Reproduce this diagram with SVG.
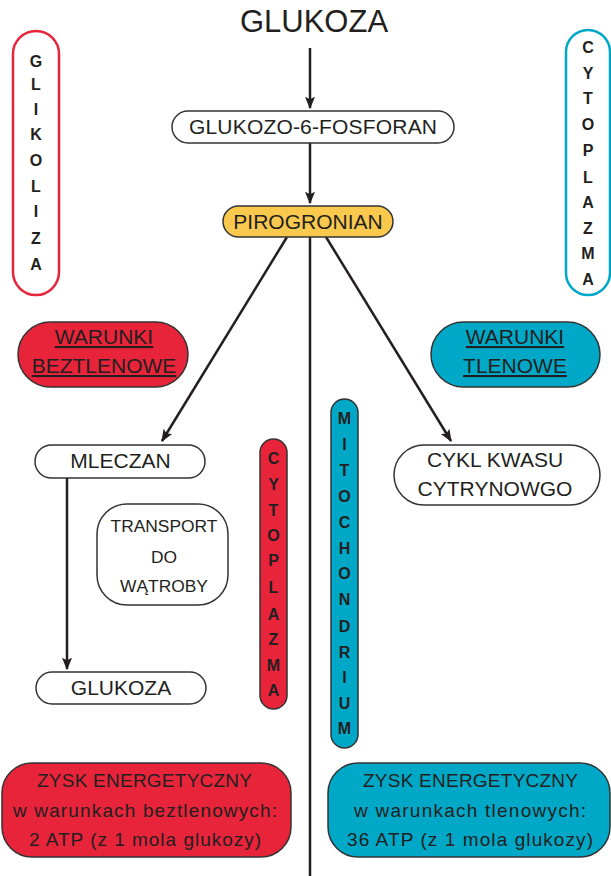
<svg xmlns="http://www.w3.org/2000/svg" width="611" height="876" viewBox="0 0 611 876">
<style>
text{font-family:"Liberation Sans",Arial,sans-serif;fill:#231f20;text-anchor:middle}
.t{font-size:21px}
.s{font-size:17.4px}
.z{font-size:19px}
.v{font-size:16px;font-weight:bold}
.u{text-decoration:underline}
.w{fill:#fff;stroke:#333;stroke-width:1.5}
.r{fill:#e8243a;stroke:#333;stroke-width:1.5}
.b{fill:#00a8c8;stroke:#333;stroke-width:1.5}
.y{fill:#f9c94d;stroke:#333;stroke-width:1.5}
.ln{stroke:#231f20;stroke-width:2.5;fill:none}
</style>
<defs>
<marker id="ah" viewBox="0 0 10 10" refX="9" refY="5" markerWidth="5" markerHeight="6" orient="auto" markerUnits="strokeWidth">
<path d="M0,1 L10,5 L0,9 L2,5 Z" fill="#231f20"/>
</marker>
</defs>
<text x="314" y="32" style="font-size:31px">GLUKOZA</text>
<g id="connectors">
<line class="ln" x1="310" y1="48" x2="310" y2="108" marker-end="url(#ah)"/>
<line class="ln" x1="310" y1="143" x2="310" y2="203" marker-end="url(#ah)"/>
<line class="ln" x1="287" y1="237" x2="162" y2="441" marker-end="url(#ah)"/>
<line class="ln" x1="326" y1="237" x2="451" y2="441" marker-end="url(#ah)"/>
<line class="ln" x1="310" y1="237" x2="310" y2="876"/>
<line class="ln" x1="67" y1="478" x2="67" y2="669" marker-end="url(#ah)"/>
</g>
<g id="glikoliza">
<rect x="13" y="31" width="46" height="264" rx="23" fill="#fff" stroke="#e8243a" stroke-width="2.5"/>
<text class="v" x="36" y="67">G</text>
<text class="v" x="36" y="90">L</text>
<text class="v" x="36" y="115">I</text>
<text class="v" x="36" y="140">K</text>
<text class="v" x="36" y="166">O</text>
<text class="v" x="36" y="192">L</text>
<text class="v" x="36" y="217">I</text>
<text class="v" x="36" y="244">Z</text>
<text class="v" x="36" y="270">A</text>
</g>
<g id="cytoplazma-top">
<rect x="566" y="30" width="44" height="265" rx="22" fill="#fff" stroke="#00a8c8" stroke-width="2.5"/>
<text class="v" x="588" y="53">C</text>
<text class="v" x="588" y="79">Y</text>
<text class="v" x="588" y="104">T</text>
<text class="v" x="588" y="130">O</text>
<text class="v" x="588" y="156">P</text>
<text class="v" x="588" y="183">L</text>
<text class="v" x="588" y="208">A</text>
<text class="v" x="588" y="234">Z</text>
<text class="v" x="588" y="259">M</text>
<text class="v" x="588" y="285">A</text>
</g>
<g id="g6f">
<rect class="w" x="172" y="111" width="282" height="32" rx="16"/>
<text class="t" x="313" y="134" textLength="248" lengthAdjust="spacing">GLUKOZO-6-FOSFORAN</text>
</g>
<g id="pirogronian">
<rect class="y" x="223" y="206" width="170" height="31" rx="15.5"/>
<text class="t" x="308" y="229">PIROGRONIAN</text>
</g>
<g id="warunki-beztlenowe">
<rect class="r" x="18" y="322" width="170" height="65" rx="32.5"/>
<text class="t u" x="104" y="344">WARUNKI</text>
<text class="t u" x="104" y="373">BEZTLENOWE</text>
</g>
<g id="warunki-tlenowe">
<rect class="b" x="431" y="322" width="169" height="65" rx="32.5"/>
<text class="t u" x="515" y="344">WARUNKI</text>
<text class="t u" x="515" y="373">TLENOWE</text>
</g>
<g id="mleczan">
<rect class="w" x="35" y="445" width="170" height="33" rx="16.5"/>
<text class="t" x="120.5" y="468">MLECZAN</text>
</g>
<g id="cykl">
<rect class="w" x="394" y="445" width="206" height="60" rx="30"/>
<text class="t" x="495" y="467">CYKL KWASU</text>
<text class="t" x="495" y="496">CYTRYNOWGO</text>
</g>
<g id="transport">
<rect class="w" x="97" y="504" width="131" height="101" rx="30"/>
<text class="s" x="164" y="532">TRANSPORT</text>
<text class="s" x="164" y="563">DO</text>
<text class="s" x="164" y="592">WĄTROBY</text>
</g>
<g id="glukoza2">
<rect class="w" x="36" y="672" width="170" height="32" rx="16"/>
<text class="t" x="121" y="695">GLUKOZA</text>
</g>
<g id="cytoplazma-mid">
<rect class="r" x="260" y="439" width="27" height="270" rx="13.5"/>
<text class="v" x="273.5" y="464">C</text>
<text class="v" x="273.5" y="490">Y</text>
<text class="v" x="273.5" y="516">T</text>
<text class="v" x="273.5" y="541">O</text>
<text class="v" x="273.5" y="566">P</text>
<text class="v" x="273.5" y="593">L</text>
<text class="v" x="273.5" y="620">A</text>
<text class="v" x="273.5" y="645">Z</text>
<text class="v" x="273.5" y="671">M</text>
<text class="v" x="273.5" y="696">A</text>
</g>
<g id="mitochondrium">
<rect class="b" x="331" y="399" width="27" height="349" rx="13.5"/>
<text class="v" x="344.5" y="424">M</text>
<text class="v" x="344.5" y="450">I</text>
<text class="v" x="344.5" y="476">T</text>
<text class="v" x="344.5" y="502">O</text>
<text class="v" x="344.5" y="528">C</text>
<text class="v" x="344.5" y="554">H</text>
<text class="v" x="344.5" y="579">O</text>
<text class="v" x="344.5" y="605">N</text>
<text class="v" x="344.5" y="632">D</text>
<text class="v" x="344.5" y="658">R</text>
<text class="v" x="344.5" y="683">I</text>
<text class="v" x="344.5" y="709">U</text>
<text class="v" x="344.5" y="734">M</text>
</g>
<g id="zysk-beztlenowy">
<rect class="r" x="2" y="763" width="289" height="94" rx="30"/>
<text class="z" x="144.5" y="787" textLength="215" lengthAdjust="spacing">ZYSK ENERGETYCZNY</text>
<text class="z" x="145" y="817" textLength="264" lengthAdjust="spacing">w warunkach beztlenowych:</text>
<text class="z" x="145" y="846" textLength="232" lengthAdjust="spacing">2 ATP (z 1 mola glukozy)</text>
</g>
<g id="zysk-tlenowy">
<rect class="b" x="328" y="763" width="282" height="94" rx="30"/>
<text class="z" x="470.5" y="787" textLength="215" lengthAdjust="spacing">ZYSK ENERGETYCZNY</text>
<text class="z" x="470" y="817" textLength="232" lengthAdjust="spacing">w warunkach tlenowych:</text>
<text class="z" x="470" y="846" textLength="246" lengthAdjust="spacing">36 ATP (z 1 mola glukozy)</text>
</g>
</svg>
